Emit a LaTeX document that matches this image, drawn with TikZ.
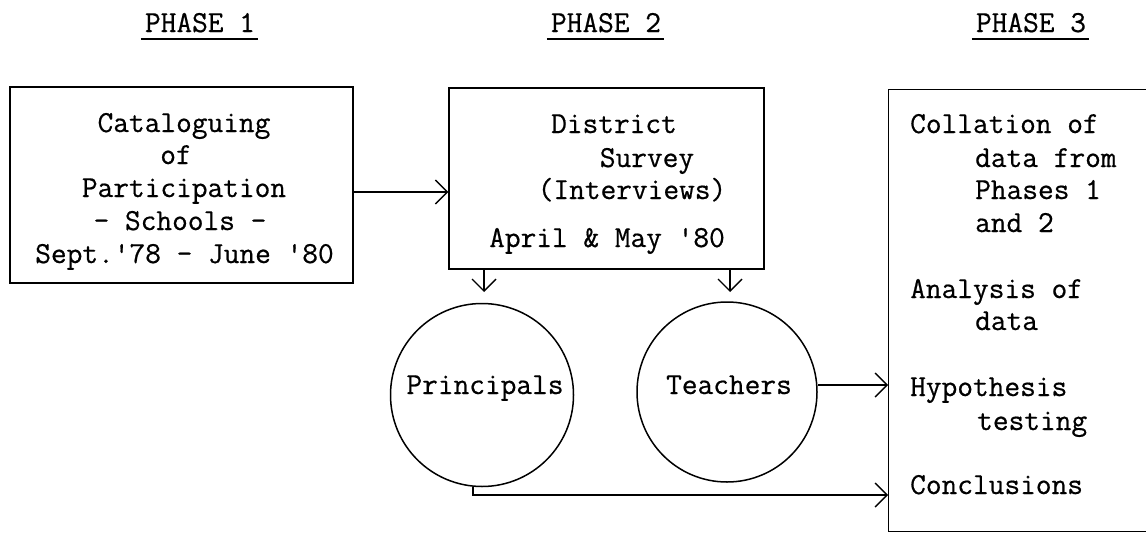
\documentclass[tikz,border=0pt]{standalone}
\usepackage{fontspec}
\newfontfamily\tw{Latin Modern Mono}[FakeBold=0.6]
\usetikzlibrary{arrows.meta}
\begin{document}
\begin{tikzpicture}[x=1pt,y=-1pt,
  every node/.style={font=\tw\fontsize{30.5}{36}\selectfont, inner sep=0pt},
  boxshape/.style={draw, line width=1.3pt, rectangle, minimum width=#1},
  circ/.style={draw, line width=1.5pt, circle},
  txt/.style={anchor=base},
  ltxt/.style={anchor=base west},
  arr/.style={line width=1.4pt, -{Straight Barb[length=12pt,width=24pt,line width=1.4pt]}},
  uline/.style={line width=2pt}
]
\useasboundingbox (0,0) rectangle (1146,533);
\clip (0,0) rectangle (1146,533);

% phase headings
\node[txt] (p1) at (200,32) {PHASE 1};
\node[txt] (p2) at (606,32) {PHASE 2};
\node[txt] (p3) at (1031,32) {PHASE 3};
\foreach \p in {p1,p2,p3}
  \draw[uline] ([xshift=-4pt,yshift=-7pt]\p.base west) -- ([xshift=3pt,yshift=-7pt]\p.base east);

% phase 1 box
\node[boxshape=343pt, minimum height=196pt] (box1) at (181.5,185) {};
\node[txt] (b1a) at (184,132) {Cataloguing};
\node[txt] (b1b) at (176,164) {of};
\node[txt] (b1c) at (184,197) {Participation};
\node[txt] (b1d) at (180,230) {- Schools -};
\node[txt] (b1e) at (184.5,263) {Sept.'78 - June '80};

% phase 2 box
\node[boxshape=315pt, minimum height=181pt] (box2) at (606.5,178.5) {};
\node[txt] (b2a) at (614,133) {District};
\node[txt] (b2b) at (647,167) {Survey};
\node[txt] (b2c) at (632,199) {(Interviews)};
\node[txt] (b2d) at (607,247) {April \& May '80};

% circles
\node[circ, minimum size=183pt] (prin) at (482,395) {};
\node[txt] (prt) at (485,394) {Principals};
\node[circ, minimum size=180pt] (teach) at (727,392) {};
\node[txt] (tet) at (729,394) {Teachers};

% phase 3 box
\node[boxshape=300pt, minimum height=442pt, anchor=north west] (box3) at (888,89) {};
\node[ltxt] (c1) at (910,133) {Collation of};
\node[ltxt] (c2) at (975,167) {data from};
\node[ltxt] (c3) at (975,199) {Phases 1};
\node[ltxt] (c4) at (975,232) {and 2};
\node[ltxt] (c5) at (910,298) {Analysis of};
\node[ltxt] (c6) at (975,330) {data};
\node[ltxt] (c7) at (910,396) {Hypothesis};
\node[ltxt] (c8) at (977,430) {testing};
\node[ltxt] (c9) at (910,494) {Conclusions};

% connectors
\coordinate (a1) at (400,192);
\draw[arr] (box1.east |- a1) -- (box2.west |- a1);
\coordinate (d1) at (484,292);
\coordinate (d2) at (730,292);
\draw[arr] (box2.south -| d1) -- (d1);
\draw[arr] (box2.south -| d2) -- (d2);
\coordinate (h1) at (850,385);
\draw[arr] (teach.east |- h1) -- (box3.west |- h1);
\coordinate (k1) at (473,495);
\draw[arr] (k1 |- prin.south) -- (k1) -- (box3.west |- k1);
\end{tikzpicture}
\end{document}
